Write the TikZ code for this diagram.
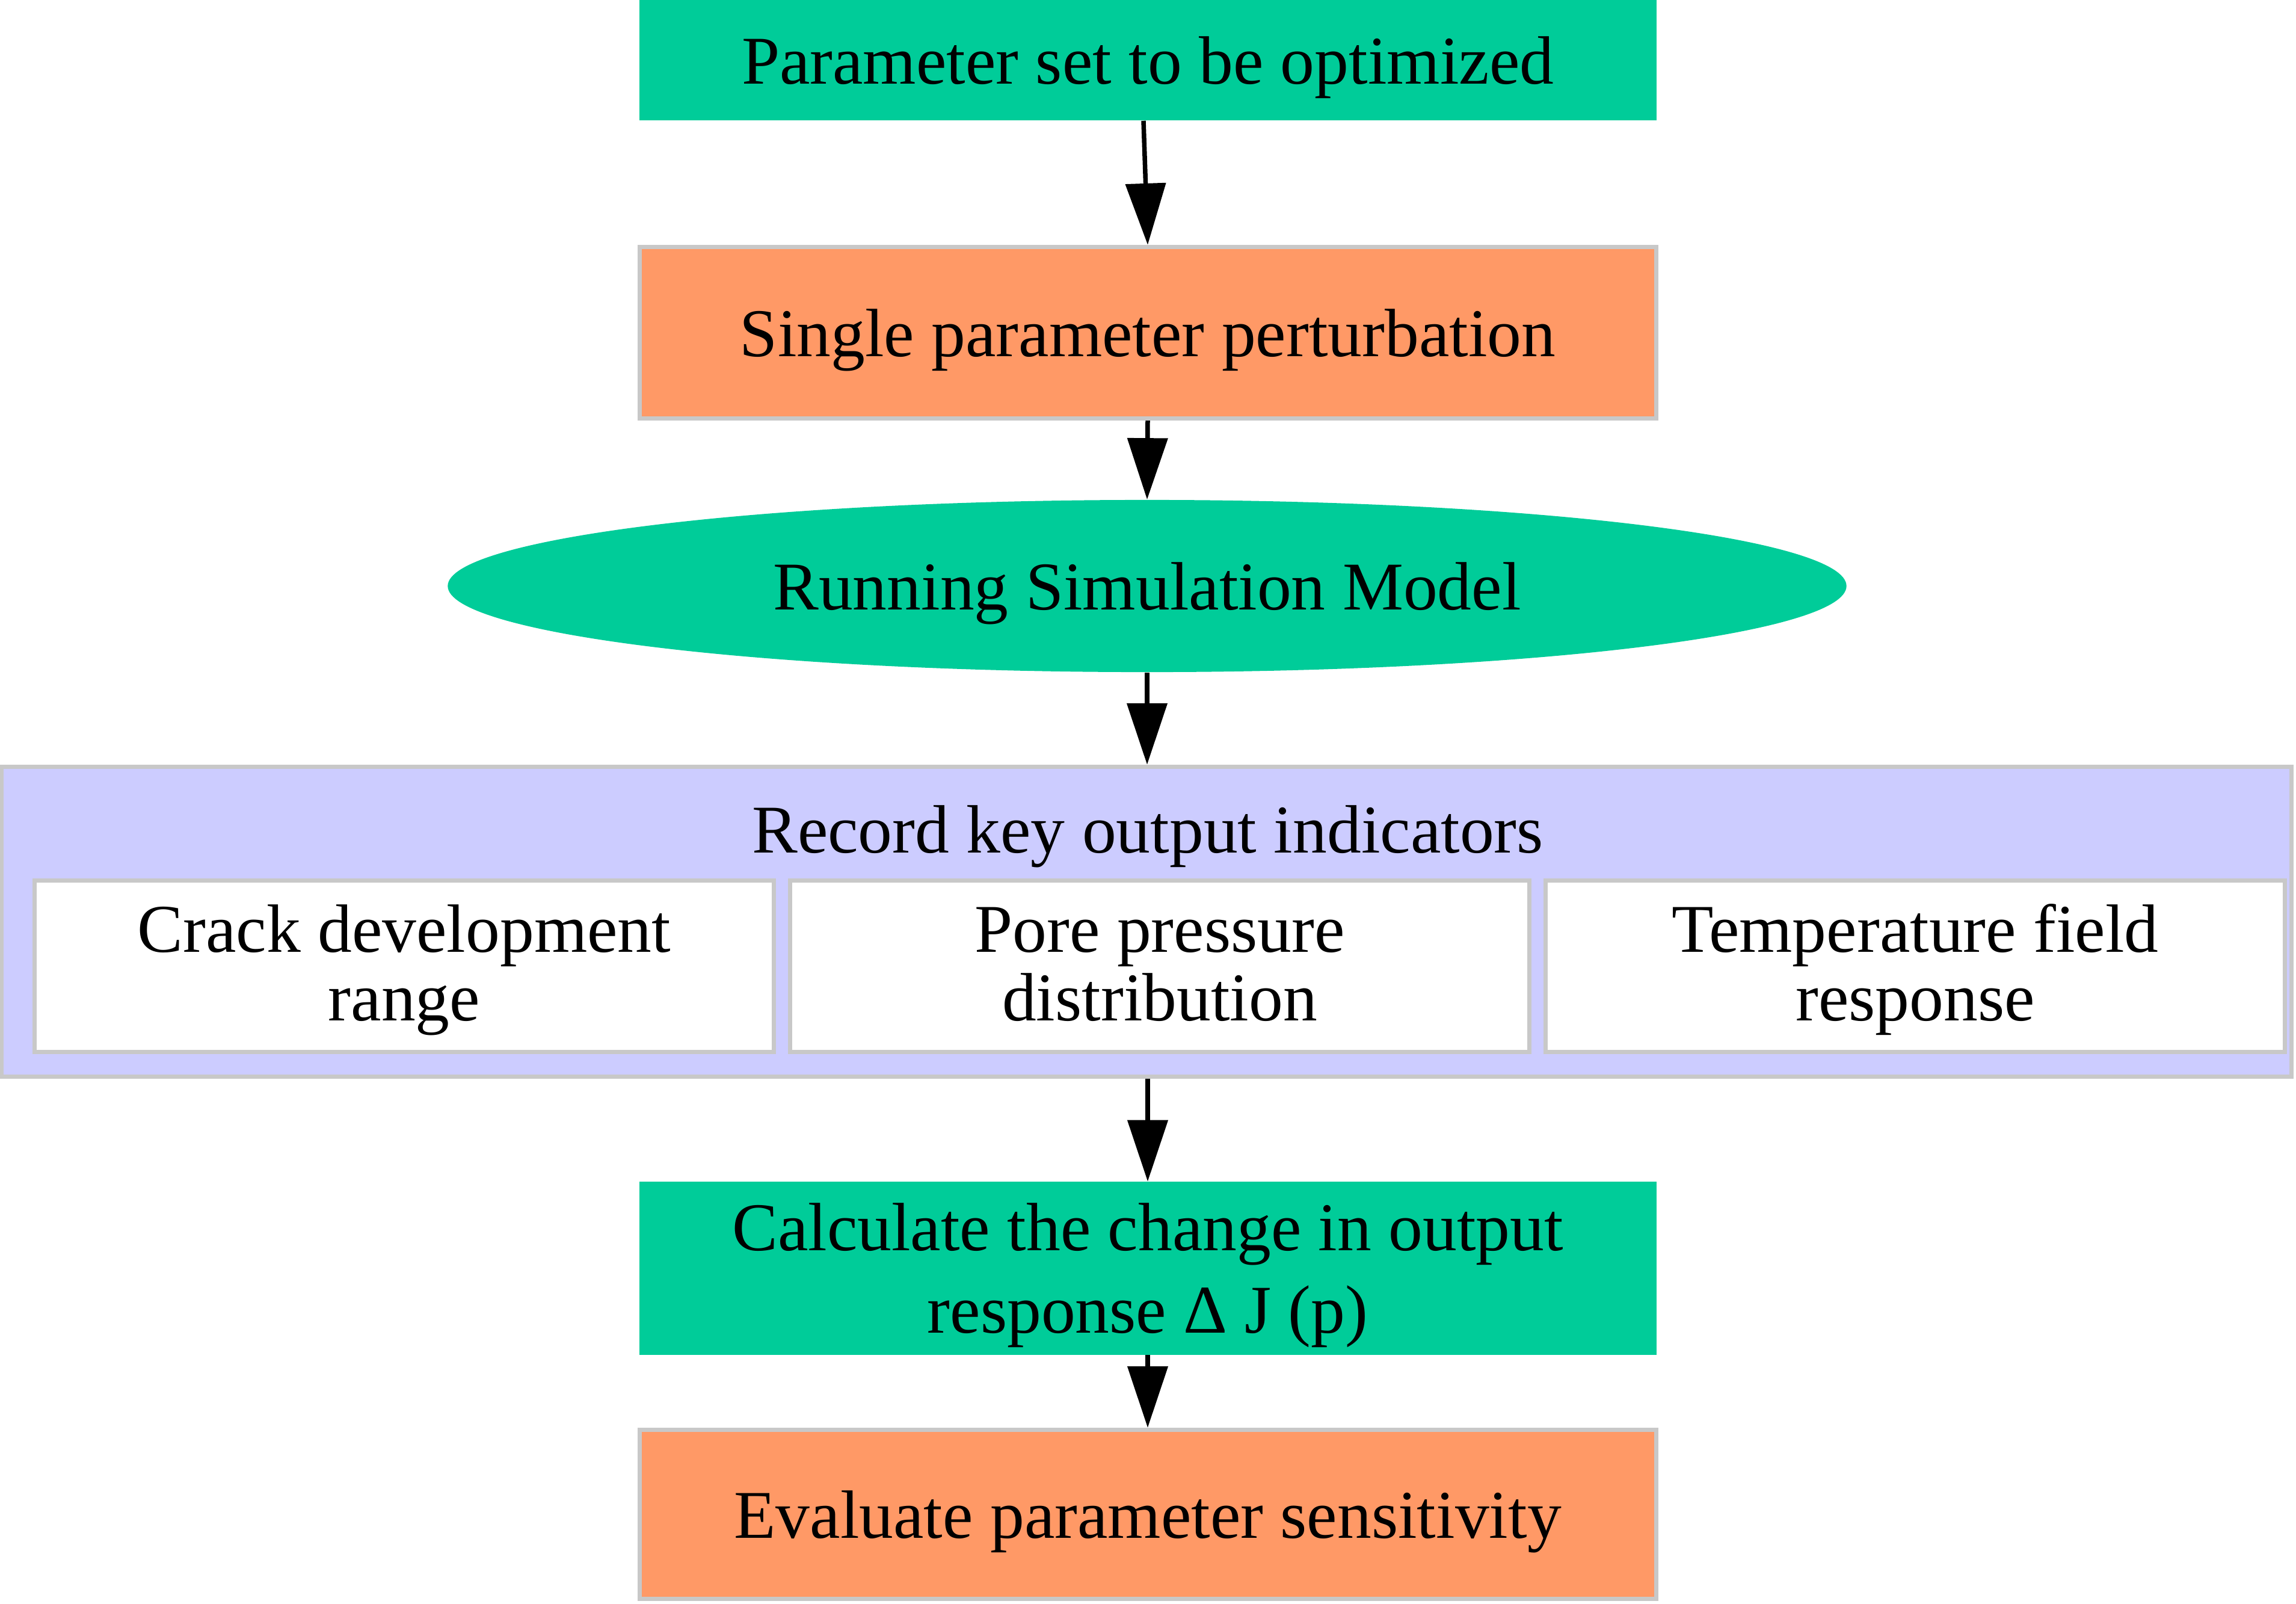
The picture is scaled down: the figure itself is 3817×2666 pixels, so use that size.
\documentclass[tikz,border=0pt]{standalone}
\usepackage{fontspec}
\setmainfont{Liberation Serif}
\usetikzlibrary{shapes.geometric,arrows.meta}
\definecolor{boxgreen}{RGB}{0,204,153}
\definecolor{boxorange}{RGB}{255,153,102}
\definecolor{lavender}{RGB}{204,204,255}
\definecolor{edgegray}{RGB}{200,200,200}
\tikzset{
  txt/.style={font=\fontsize{32.3pt}{32.2pt}\selectfont, inner sep=0pt, align=center},
  one/.style={txt, text height=0.9cm, text depth=0.12cm},
  greenbox/.style={one, rectangle, fill=boxgreen, minimum width=16.9cm, minimum height=2cm},
  orangebox/.style={one, rectangle, fill=boxorange, draw=edgegray, line width=0.07cm, minimum width=16.89cm},
  innerbox/.style={txt, rectangle, fill=white, draw=edgegray, line width=0.07cm, minimum width=12.29cm, minimum height=2.85cm, text height=1.9cm, text depth=0.1cm},
  flow/.style={line width=0.075cm, -{Triangle[length=1.02cm, width=0.66cm]}}
}
\begin{document}
\begin{tikzpicture}[x=0.01cm, y=-0.01cm]
\useasboundingbox (0,0) rectangle (3817,2666);
\node[greenbox] (b1) at (1908,100) {Parameter set to be optimized};
\node[orangebox, minimum height=2.85cm] (b2) at (1908,553) {Single parameter perturbation};
\node[one, ellipse, fill=boxgreen, minimum width=23.24cm, minimum height=2.86cm] (ell) at (1907,974) {Running Simulation Model};
\node[rectangle, fill=lavender, draw=edgegray, line width=0.07cm, minimum width=38.05cm, minimum height=5.15cm, inner sep=0pt] (cl) at (1906,1532) {};
\node[txt, anchor=base] (title) at (1908,1417) {Record key output indicators};
\node[innerbox] (ia) at (672,1606) {Crack development\\range};
\node[innerbox] (ib) at (1928,1606) {Pore pressure\\distribution};
\node[innerbox] (ic) at (3184,1606) {Temperature field\\response};
\node[greenbox, font=\fontsize{32.3pt}{38.7pt}\selectfont, minimum height=2.87cm, text height=2.24cm, text depth=0.1cm] (b5) at (1908,2108) {Calculate the change in output\\response Δ J (p)};
\node[orangebox, minimum height=2.81cm] (b6) at (1908,2517) {Evaluate parameter sensitivity};
\draw[flow] ([xshift=-0.07cm]b1.south) -- (b2.north);
\draw[flow] (b2.south) -- (ell.north);
\draw[flow] (ell.south) -- (ell.south |- cl.north);
\draw[flow] (cl.south -| b5.north) -- (b5.north);
\draw[flow] (b5.south) -- (b6.north);
\end{tikzpicture}
\end{document}
